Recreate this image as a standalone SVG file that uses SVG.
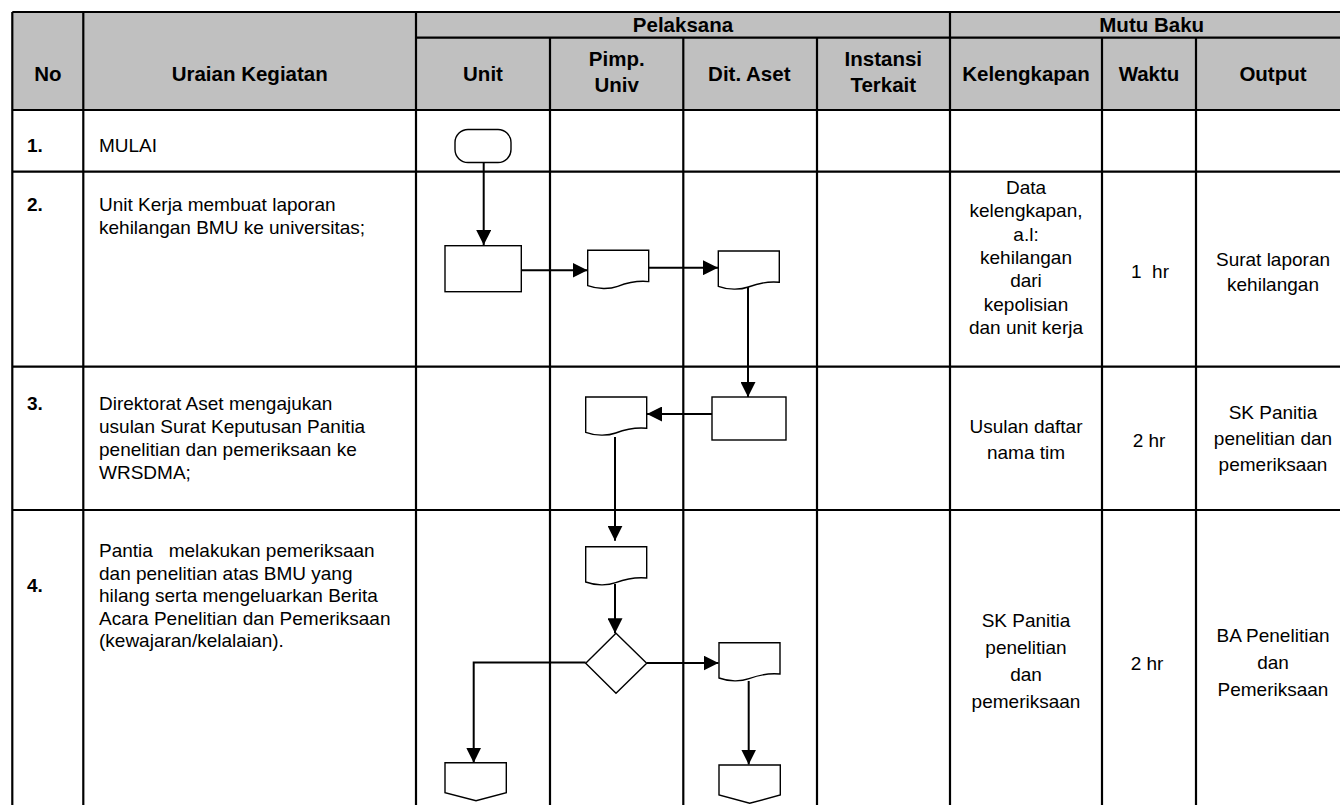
<svg xmlns="http://www.w3.org/2000/svg" width="1340" height="805" viewBox="0 0 1340 805">
<style>
.grid{stroke:#000;stroke-width:2.2;fill:none}
.hdr{font-family:"Liberation Sans",Arial,sans-serif;font-weight:bold;font-size:20.5px;text-anchor:middle;fill:#000}
.num{font-family:"Liberation Sans",Arial,sans-serif;font-weight:bold;font-size:19px;fill:#000}
.txt{font-family:"Liberation Sans",Arial,sans-serif;font-size:19px;fill:#000}
.ctr{font-family:"Liberation Sans",Arial,sans-serif;font-size:19px;fill:#000;text-anchor:middle}
.shape{fill:#fff;stroke:#000;stroke-width:1.4}
.conn{fill:none;stroke:#000;stroke-width:2}
</style>
<defs>
<marker id="arr" markerUnits="userSpaceOnUse" markerWidth="15" markerHeight="15" refX="15" refY="7.5" orient="auto">
<path d="M0,0 L15,7.5 L0,15 Z" fill="#000"/>
</marker>
<path id="docshape" d="M0,0 H61 V31.3 C48,30 38,33 30,36 C22,39 10,39 0,35.3 Z"/>
</defs>
<rect width="1340" height="805" fill="#fff"/>
<g id="table">
<rect x="12.3" y="12" width="1340" height="98" fill="#c0c0c0"/>
<path class="grid" d="M12.3,12 H1340 M416,37.7 H1340 M12.3,110 H1340 M12.3,171.7 H1340 M12.3,366.7 H1340 M12.3,510 H1340"/>
<path class="grid" d="M12.3,12 V805 M83.3,12 V805 M416,12 V805 M550,37.7 V805 M683.3,37.7 V805 M817,37.7 V805 M950,12 V805 M1102,37.7 V805 M1196,37.7 V805"/>
</g>
<g id="header">
<text class="hdr" x="47.8" y="81">No</text>
<text class="hdr" x="249.7" y="81">Uraian Kegiatan</text>
<text class="hdr" x="683" y="31.5">Pelaksana</text>
<text class="hdr" x="1151.7" y="31.5">Mutu Baku</text>
<text class="hdr" x="483" y="81">Unit</text>
<text class="hdr" x="616.7" y="66">Pimp.</text>
<text class="hdr" x="616.7" y="91.5">Univ</text>
<text class="hdr" x="749.3" y="81">Dit. Aset</text>
<text class="hdr" x="883.3" y="66">Instansi</text>
<text class="hdr" x="883.3" y="91.5">Terkait</text>
<text class="hdr" x="1026" y="81">Kelengkapan</text>
<text class="hdr" x="1149" y="81">Waktu</text>
<text class="hdr" x="1273" y="81">Output</text>
</g>
<g id="row1">
<text class="num" x="27" y="152">1.</text>
<text class="txt" x="99" y="152">MULAI</text>
</g>
<g id="row2">
<text class="num" x="27" y="211">2.</text>
<text class="txt" x="99" y="211">Unit Kerja membuat laporan</text>
<text class="txt" x="99" y="233.5">kehilangan BMU ke universitas;</text>
<text class="ctr" x="1026" y="194">Data</text>
<text class="ctr" x="1026" y="217.3">kelengkapan,</text>
<text class="ctr" x="1026" y="240.6">a.l:</text>
<text class="ctr" x="1026" y="263.9">kehilangan</text>
<text class="ctr" x="1026" y="287.2">dari</text>
<text class="ctr" x="1026" y="310.5">kepolisian</text>
<text class="ctr" x="1026" y="333.8">dan unit kerja</text>
<text class="ctr" x="1150" y="278" xml:space="preserve">1  hr</text>
<text class="ctr" x="1273" y="266">Surat laporan</text>
<text class="ctr" x="1273" y="291">kehilangan</text>
</g>
<g id="row3">
<text class="num" x="27" y="410">3.</text>
<text class="txt" x="99" y="410">Direktorat Aset mengajukan</text>
<text class="txt" x="99" y="433">usulan Surat Keputusan Panitia</text>
<text class="txt" x="99" y="456">penelitian dan pemeriksaan ke</text>
<text class="txt" x="99" y="479">WRSDMA;</text>
<text class="ctr" x="1026" y="433">Usulan daftar</text>
<text class="ctr" x="1026" y="459">nama tim</text>
<text class="ctr" x="1149" y="447">2 hr</text>
<text class="ctr" x="1273" y="419">SK Panitia</text>
<text class="ctr" x="1273" y="445">penelitian dan</text>
<text class="ctr" x="1273" y="471">pemeriksaan</text>
</g>
<g id="row4">
<text class="num" x="27" y="592">4.</text>
<text class="txt" x="99" y="557" xml:space="preserve">Pantia   melakukan pemeriksaan</text>
<text class="txt" x="99" y="579.5">dan penelitian atas BMU yang</text>
<text class="txt" x="99" y="602">hilang serta mengeluarkan Berita</text>
<text class="txt" x="99" y="624.5">Acara Penelitian dan Pemeriksaan</text>
<text class="txt" x="99" y="647">(kewajaran/kelalaian).</text>
<text class="ctr" x="1026" y="627">SK Panitia</text>
<text class="ctr" x="1026" y="654">penelitian</text>
<text class="ctr" x="1026" y="681">dan</text>
<text class="ctr" x="1026" y="708">pemeriksaan</text>
<text class="ctr" x="1147" y="670">2 hr</text>
<text class="ctr" x="1273" y="642">BA Penelitian</text>
<text class="ctr" x="1273" y="669">dan</text>
<text class="ctr" x="1273" y="696">Pemeriksaan</text>
</g>
<g id="connectors">
<path class="conn" marker-end="url(#arr)" d="M483.7,162.3 V245"/>
<path class="conn" marker-end="url(#arr)" d="M521.3,270.3 H587.5"/>
<path class="conn" marker-end="url(#arr)" d="M648.7,267.7 H718"/>
<path class="conn" marker-end="url(#arr)" d="M748,287 V397"/>
<path class="conn" marker-end="url(#arr)" d="M712,414 H647"/>
<path class="conn" marker-end="url(#arr)" d="M615,437 V540.7"/>
<path class="conn" marker-end="url(#arr)" d="M615,584 V633.3"/>
<path class="conn" marker-end="url(#arr)" d="M585.7,662.5 H473.7 V762.7"/>
<path class="conn" marker-end="url(#arr)" d="M646.7,663 H718.5"/>
<path class="conn" marker-end="url(#arr)" d="M748.7,681 V764.5"/>
</g>
<g id="start"><rect class="shape" x="455" y="129.5" width="56" height="33" rx="13"/></g>
<g id="rect1"><rect class="shape" x="445" y="245.7" width="76.3" height="46"/></g>
<g id="doc1"><use href="#docshape" class="shape" x="587.7" y="250.3"/></g>
<g id="doc2"><use href="#docshape" class="shape" x="718.3" y="251"/></g>
<g id="rect2"><rect class="shape" x="712" y="397" width="74" height="43"/></g>
<g id="doc5"><use href="#docshape" class="shape" x="585.7" y="397"/></g>
<g id="doc3"><use href="#docshape" class="shape" x="585.7" y="546.7"/></g>
<g id="decision"><polygon class="shape" points="616,633.3 646.7,663.3 616,693.3 585.7,663.3"/></g>
<g id="doc4"><use href="#docshape" class="shape" x="719" y="642.7"/></g>
<g id="offpage1"><polygon class="shape" points="445,762.7 506.3,762.7 506.3,792.7 476,800.7 445,792.7"/></g>
<g id="offpage2"><polygon class="shape" points="719,765 780.3,765 780.3,795 749.7,803.3 719,795"/></g>
</svg>
